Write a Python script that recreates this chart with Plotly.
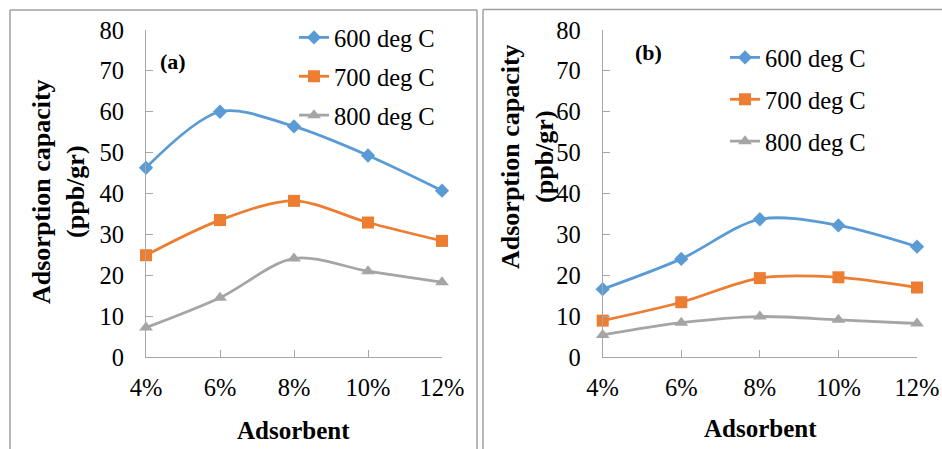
import plotly.graph_objects as go

W, H = 942, 449

categories = ["4%", "6%", "8%", "10%", "12%"]
series_names = ["600 deg C", "700 deg C", "800 deg C"]

a_600 = [46.3, 60.0, 56.4, 49.3, 40.7]
a_700 = [24.9, 33.5, 38.2, 32.9, 28.4]
a_800 = [7.2, 14.5, 24.1, 21.0, 18.3]

b_600 = [16.6, 24.0, 33.7, 32.2, 27.0]
b_700 = [8.9, 13.4, 19.3, 19.5, 17.0]
b_800 = [5.4, 8.4, 9.9, 9.1, 8.2]

y_ticks = [0, 10, 20, 30, 40, 50, 60, 70, 80]

colors = ["#5B9BD5", "#ED7D31", "#A5A5A5"]
symbols = ["diamond", "square", "triangle-up"]
msizes = [11, 12, 12]

FONT = "Liberation Serif"
AXC = "#a6a6a6"
FS = 24.5


def px(x):
    return x / W


def py(y):
    return (H - y) / H


fig = go.Figure()

for panel, data, xa, ya, leg in [
    ("a", [a_600, a_700, a_800], "x", "y", "legend"),
    ("b", [b_600, b_700, b_800], "x2", "y2", "legend2"),
]:
    for i, vals in enumerate(data):
        fig.add_trace(go.Scatter(
            x=categories, y=vals, name=series_names[i],
            mode="lines+markers",
            line=dict(color=colors[i], width=2.8, shape="spline", smoothing=0.9),
            marker=dict(symbol=symbols[i], size=msizes[i], color=colors[i]),
            xaxis=xa, yaxis=ya, legend=leg, cliponaxis=False,
            legendgroup=panel + str(i),
        ))

axis_common = dict(
    showline=True, linecolor=AXC, linewidth=1.3,
    ticks="inside", tickcolor=AXC, ticklen=7, tickwidth=1.3,
    showgrid=False, zeroline=False, automargin=False,
    tickfont=dict(family=FONT, size=FS, color="black"),
)

fig.update_layout(
    width=W, height=H,
    margin=dict(l=0, r=0, t=0, b=0, autoexpand=False),
    paper_bgcolor="white", plot_bgcolor="white",
    showlegend=True,
    font=dict(family=FONT, size=FS, color="black"),
    xaxis=dict(domain=[px(146), px(442)], anchor="y", type="category",
               range=[0, 4], ticklabelstandoff=8, **axis_common),
    yaxis=dict(domain=[py(357), py(30)], anchor="x", range=[0, 80],
               tickvals=y_ticks, ticklabelstandoff=16, **axis_common),
    xaxis2=dict(domain=[px(602.7), px(917)], anchor="y2", type="category",
                range=[0, 4], ticklabelstandoff=8, **axis_common),
    yaxis2=dict(domain=[py(357), py(30)], anchor="x2", range=[0, 80],
                tickvals=y_ticks, ticklabelstandoff=16, **axis_common),
    legend=dict(x=px(294), y=py(15), xanchor="left", yanchor="top",
                font=dict(family=FONT, size=FS, color="black"),
                bgcolor="rgba(0,0,0,0)", tracegroupgap=4, itemwidth=30),
    legend2=dict(x=px(725), y=py(35), xanchor="left", yanchor="top",
                 font=dict(family=FONT, size=FS, color="black"),
                 bgcolor="rgba(0,0,0,0)", tracegroupgap=7, itemwidth=30),
)

ann = []
ytitle_font = dict(family=FONT, size=26, color="black")
xtitle_font = dict(family=FONT, size=25, color="black")
ann.append(dict(text="<b>Adsorption capacity<br>(ppb/gr)</b>", x=px(59), y=py(192),
                xref="paper", yref="paper", showarrow=False, textangle=-90,
                font=ytitle_font, xanchor="center", yanchor="middle"))
ann.append(dict(text="<b>Adsorption capacity<br>(ppb/gr)</b>", x=px(527), y=py(157),
                xref="paper", yref="paper", showarrow=False, textangle=-90,
                font=ytitle_font, xanchor="center", yanchor="middle"))
ann.append(dict(text="<b>Adsorbent</b>", x=px(293), y=py(430), xref="paper", yref="paper",
                showarrow=False, font=xtitle_font, xanchor="center", yanchor="middle"))
ann.append(dict(text="<b>Adsorbent</b>", x=px(760), y=py(428), xref="paper", yref="paper",
                showarrow=False, font=xtitle_font, xanchor="center", yanchor="middle"))
ann.append(dict(text="<b>(a)</b>", x=px(173), y=py(62), xref="paper", yref="paper",
                showarrow=False, font=dict(family=FONT, size=22, color="black"),
                xanchor="center", yanchor="middle"))
ann.append(dict(text="<b>(b)</b>", x=px(648), y=py(52), xref="paper", yref="paper",
                showarrow=False, font=dict(family=FONT, size=22, color="black"),
                xanchor="center", yanchor="middle"))
fig.update_layout(annotations=ann)

bc = "#a0a0a0"
shapes = []
for (x0, y0, x1, y1) in [
    (10, 10, 10, H + 5), (10, 10, 477, 10), (477, 10, 477, H + 5),
    (483, 9.5, 483, H + 5), (483, 9.5, W + 5, 9.5),
]:
    shapes.append(dict(type="line", xref="paper", yref="paper",
                       x0=px(x0), y0=py(y0), x1=px(x1), y1=py(y1),
                       line=dict(color=bc, width=1.5)))
fig.update_layout(shapes=shapes)

fig.write_html("out.html")
